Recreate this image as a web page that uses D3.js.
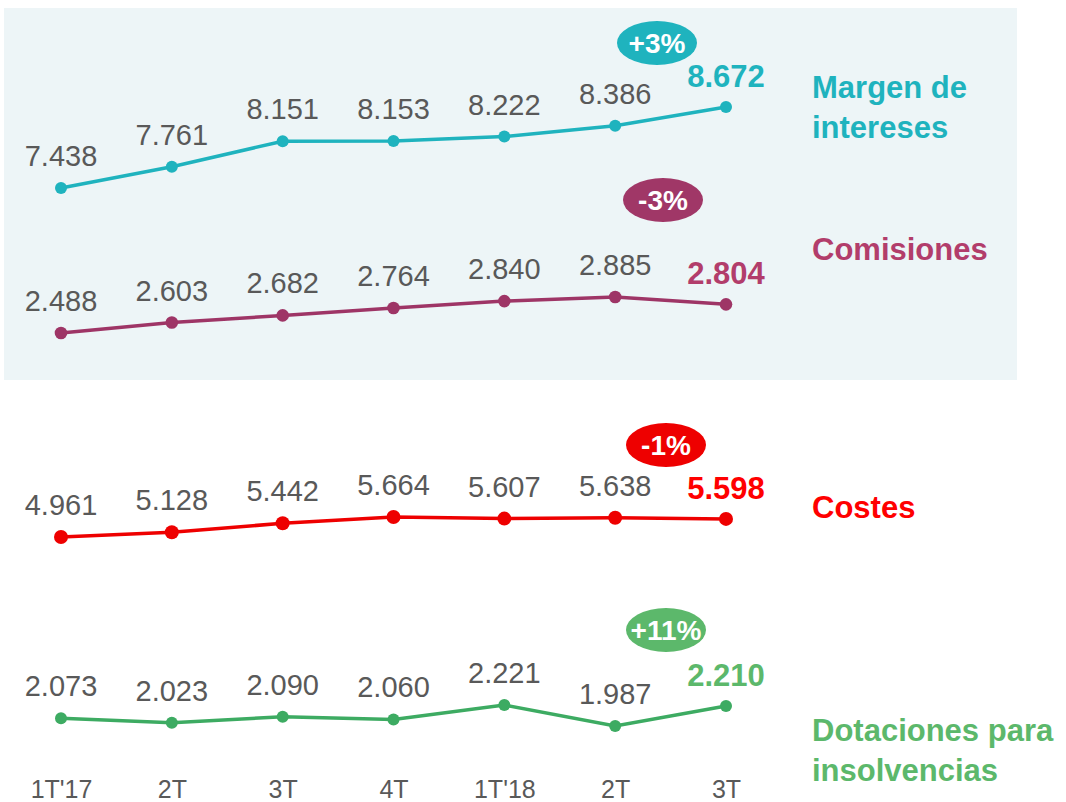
<!DOCTYPE html>
<html lang="es">
<head>
    <meta charset="UTF-8">
    <title> Evolución trimestral </title>
    <script src="https://cdn.jsdelivr.net/npm/d3@7/dist/d3.min.js"></script>
    <style>
        body { margin: 0; background: #ffffff; }
        text { font-family: "Liberation Sans", Arial, sans-serif; }
    </style>
</head>
<body>
<svg width="1066" height="802" viewBox="0 0 1066 802"></svg>
<script>
    // data (millones de euros)
    const quarters = ["1T'17", "2T", "3T", "4T", "1T'18", "2T", "3T"];
    const margenIntereses = [7438, 7761, 8151, 8153, 8222, 8386, 8672];
    const comisiones = [2488, 2603, 2682, 2764, 2840, 2885, 2804];
    const costes = [4961, 5128, 5442, 5664, 5607, 5638, 5598];
    const dotaciones = [2073, 2023, 2090, 2060, 2221, 1987, 2210];
    const seriesNames = [["Margen de", "intereses"], ["Comisiones"], ["Costes"], ["Dotaciones para", "insolvencias"]];
    const changes = ["+3%", "-3%", "-1%", "+11%"];

    const svg = d3.select('svg');
    const es = d3.formatLocale({decimal: ",", thousands: ".", grouping: [3], currency: ["", " €"]});
    const fmt = es.format(",");

    // light panel behind the first two series
    svg.append('rect')
        .attr('x', 4).attr('y', 8)
        .attr('width', 1013).attr('height', 372)
        .attr('fill', '#edf5f7');

    const x = d3.scalePoint().domain(d3.range(quarters.length)).range([61, 726]);

    // each series has its own vertical band
    const panels = [
        {values: margenIntereses, y: [188, 107], line: '#1fb3be', text: '#1fb3be', badgeFill: '#1fb3be', r: 6, badge: [657, 43], nameY: 98},
        {values: comisiones, y: [333, 297], line: '#9e3566', text: '#b23d6b', badgeFill: '#a03767', r: 6.3, badge: [663, 200], nameY: 260},
        {values: costes, y: [537, 517], line: '#ee0000', text: '#ff0000', badgeFill: '#ee0000', r: 7, badge: [666, 445], nameY: 518},
        {values: dotaciones, y: [726, 705], line: '#3dab62', text: '#5cb86b', badgeFill: '#5cb86b', r: 6, badge: [666, 630], nameY: 741}
    ];
    panels.forEach(function (p, k) { p.name = seriesNames[k]; p.change = changes[k]; });

    panels.forEach(function (p) {
        const y = d3.scaleLinear().domain(d3.extent(p.values)).range(p.y);
        const g = svg.append('g');

        g.append('path')
            .datum(p.values)
            .attr('d', d3.line().x(function (d, i) { return x(i); }).y(function (d) { return y(d); }))
            .style('fill', 'none')
            .style('stroke', p.line)
            .style('stroke-width', '3.5px');

        g.selectAll('circle')
            .data(p.values)
            .join('circle')
            .attr('cx', function (d, i) { return x(i); })
            .attr('cy', function (d) { return y(d); })
            .attr('r', p.r)
            .attr('fill', p.line);

        const last = p.values.length - 1;
        g.selectAll('text.val')
            .data(p.values)
            .join('text')
            .attr('class', 'val')
            .attr('x', function (d, i) { return x(i); })
            .attr('y', function (d, i) { return y(d) - (i === last ? 20 : 22); })
            .attr('text-anchor', 'middle')
            .style('font-size', function (d, i) { return i === last ? '31px' : '29px'; })
            .style('font-weight', function (d, i) { return i === last ? 'bold' : 'normal'; })
            .attr('fill', function (d, i) { return i === last ? p.text : '#595959'; })
            .text(function (d) { return fmt(d); });

        // change badge
        g.append('ellipse')
            .attr('cx', p.badge[0]).attr('cy', p.badge[1])
            .attr('rx', 40).attr('ry', 22)
            .attr('fill', p.badgeFill);
        g.append('text')
            .attr('x', p.badge[0]).attr('y', p.badge[1] + 10)
            .attr('text-anchor', 'middle')
            .style('font-size', '28px')
            .style('font-weight', 'bold')
            .attr('fill', '#ffffff')
            .text(p.change);

        // series name on the right
        g.append('text')
            .attr('x', 812).attr('y', p.nameY)
            .style('font-size', '31px')
            .style('font-weight', 'bold')
            .attr('fill', p.text)
            .selectAll('tspan')
            .data(p.name)
            .join('tspan')
            .attr('x', 812)
            .attr('dy', function (d, i) { return i === 0 ? 0 : 40; })
            .text(function (d) { return d; });
    });

    // quarter labels
    const axis = svg.append("g")
        .attr("transform", "translate(0,780)")
        .call(d3.axisBottom(x).tickSize(0).tickPadding(0).tickFormat(function (i) { return quarters[i]; }));
    axis.select('.domain').remove();
    axis.selectAll('text')
        .style('font-family', '"Liberation Sans", Arial, sans-serif')
        .style('font-size', '25px')
        .attr('fill', '#595959');
</script>
</body>
</html>
